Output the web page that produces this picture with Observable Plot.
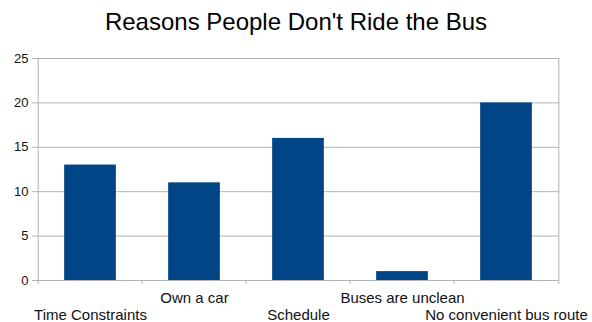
<!DOCTYPE html>
<html>
<head>
<meta charset="utf-8">
<script src="https://cdn.jsdelivr.net/npm/d3@7"></script>
<script src="https://cdn.jsdelivr.net/npm/@observablehq/plot@0.6"></script>
<style>
  body { margin: 0; background: #fff; font-family: "Liberation Sans", Arial, sans-serif; }
  #title { height: 45px; box-sizing: border-box; padding-top: 10px; font-size: 24px; line-height: 24px; text-align: center; color: #000; width: 592px; }
</style>
</head>
<body>
<div id="title">Reasons People Don't Ride the Bus</div>
<div id="chart"></div>
<script>
const categories = ["Time Constraints", "Own a car", "Schedule", "Buses are unclean", "No convenient bus route"];
const values = [13, 11, 16, 1, 20];
const yTicks = [0, 5, 10, 15, 20, 25];

const data = categories.map((c, i) => ({category: c, value: values[i]}));
const width = 592, height = 277, marginLeft = 36, marginRight = 33, marginTop = 13, marginBottom = 42;
const bandwidth = (width - marginLeft - marginRight) / categories.length;
const gridColor = "#b3b3b3";

const chart = Plot.plot({
  width, height, marginLeft, marginRight, marginTop, marginBottom,
  style: {fontFamily: "Liberation Sans, Arial, sans-serif", background: "#fff", overflow: "visible"},
  x: {domain: categories, padding: 0, label: null},
  y: {domain: [0, 25], label: null},
  marks: [
    Plot.gridY(yTicks, {stroke: gridColor, strokeOpacity: 1}),
    Plot.axisY({ticks: yTicks, tickSize: 4, tickPadding: 4, stroke: gridColor, fontSize: 13, fill: "#111", label: null}),
    Plot.barY(data, {x: "category", y: "value", fill: "#004586", insetLeft: bandwidth / 4, insetRight: bandwidth / 4}),
    Plot.ruleX([categories[0]], {stroke: gridColor, dx: -bandwidth / 2}),
    Plot.ruleX([categories[categories.length - 1]], {stroke: gridColor, dx: bandwidth / 2}),
    Plot.ruleX(categories, {y1: 0, y2: 0, stroke: gridColor, dx: -bandwidth / 2, insetBottom: -4}),
    Plot.ruleX([categories[categories.length - 1]], {y1: 0, y2: 0, stroke: gridColor, dx: bandwidth / 2, insetBottom: -4}),
    Plot.axisX({ticks: categories.filter((d, i) => i % 2 === 0), tickSize: 0, tickPadding: 29, fontSize: 15, fill: "#111", label: null}),
    Plot.axisX({ticks: categories.filter((d, i) => i % 2 === 1), tickSize: 0, tickPadding: 12, fontSize: 15, fill: "#111", label: null})
  ]
});
document.getElementById("chart").appendChild(chart);
</script>
</body>
</html>
